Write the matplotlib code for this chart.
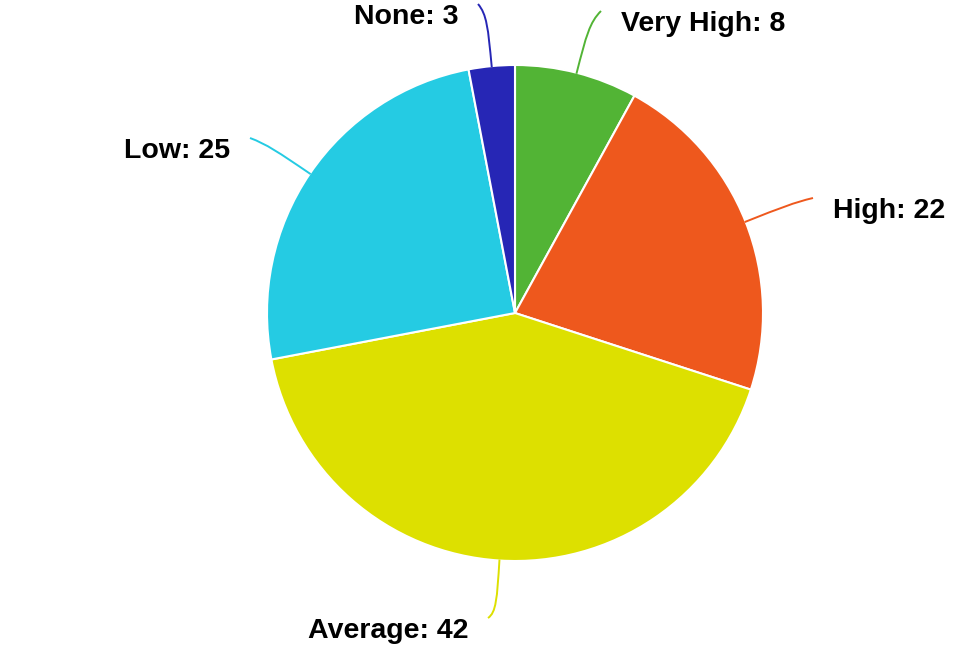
import numpy as np
import matplotlib.pyplot as plt
from matplotlib.path import Path
from matplotlib.patches import PathPatch

# chart data
categories = ["Very High", "High", "Average", "Low", "None"]
values = [8, 22, 42, 25, 3]
colors = ["#52b435", "#ee581d", "#dde000", "#25cbe3", "#2626b5"]

# label anchor positions in pixels (x, y from top) and alignment
label_pos = [(621, 24), (833, 211), (468, 631), (230, 151), (458, 17)]
label_side = ["left", "left", "right", "right", "right"]

W, H = 968, 646
cx, cy, R = 515, H - 313, 248

fig = plt.figure(figsize=(W / 100, H / 100), dpi=100)
ax = fig.add_axes([0, 0, 1, 1])
ax.set_xlim(0, W)
ax.set_ylim(0, H)
ax.set_aspect("equal")
ax.axis("off")

wedges, _ = ax.pie(values, colors=colors, startangle=90, counterclock=False,
                   center=(cx, cy), radius=R,
                   wedgeprops=dict(edgecolor="white", linewidth=1.5))
ax.set_xlim(0, W)
ax.set_ylim(0, H)

total = sum(values)
cum = np.cumsum([0] + values)
for i, (cat, v) in enumerate(zip(categories, values)):
    frac = (cum[i] + v / 2) / total
    ang = np.deg2rad(90 - 360 * frac)
    d = np.array([np.cos(ang), np.sin(ang)])
    p0 = np.array([cx, cy]) + d * (R - 1)
    elbow = np.array([cx, cy]) + d * (R + 52)
    lx, ly = label_pos[i]
    ly = H - ly
    if label_side[i] == "left":
        end = np.array([lx - 20, ly + 13])
    else:
        end = np.array([lx + 20, ly + 13])
    p1 = p0 + 0.75 * (elbow - p0)
    path = Path([p0, p1, elbow, end],
                [Path.MOVETO, Path.CURVE4, Path.CURVE4, Path.CURVE4])
    ax.add_patch(PathPatch(path, facecolor="none", edgecolor=colors[i],
                           linewidth=1.4))
    ax.text(lx, ly, f"{cat}: {v}", ha=label_side[i], va="center",
            fontsize=20.5, fontweight="bold", family="Liberation Sans",
            color="black")

fig.savefig("out.png", dpi=100)
